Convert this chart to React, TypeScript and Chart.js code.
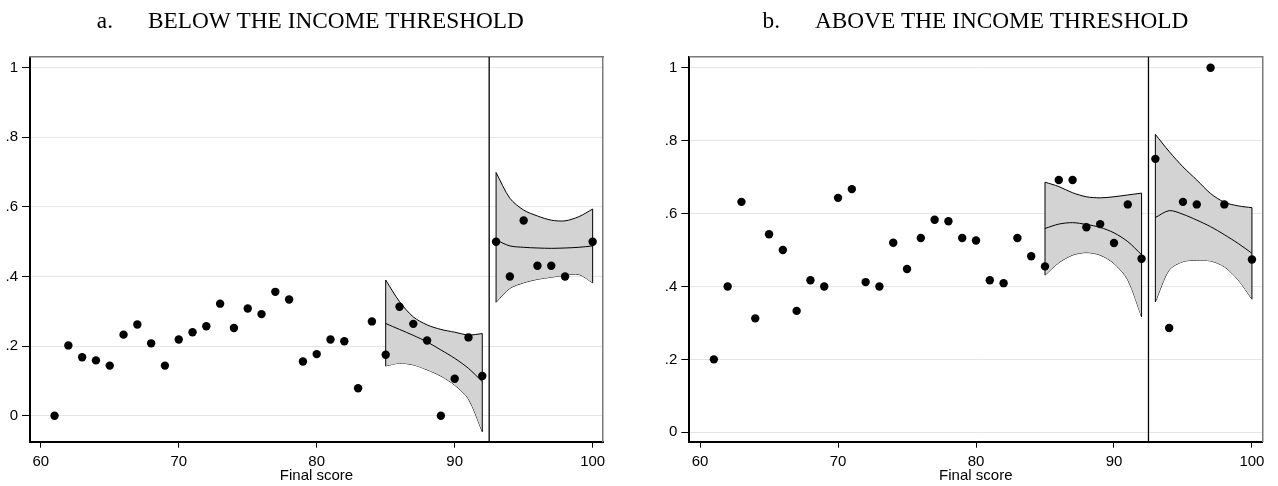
import React, { useEffect, useRef } from 'react';
import { Chart, registerables } from 'chart.js';

Chart.register(...registerables);

// ---------- data ----------
const scores = [61, 62, 63, 64, 65, 66, 67, 68, 69, 70, 71, 72, 73, 74, 75, 76, 77, 78, 79, 80,
  81, 82, 83, 84, 85, 86, 87, 88, 89, 90, 91, 92, 93, 94, 95, 96, 97, 98, 100];

const shareBelow = [0, 0.202, 0.168, 0.159, 0.144, 0.233, 0.262, 0.208, 0.144, 0.219, 0.24, 0.257, 0.322, 0.252,
  0.308, 0.292, 0.356, 0.334, 0.156, 0.177, 0.219, 0.214, 0.079, 0.271, 0.175, 0.313, 0.264, 0.216, 0, 0.106,
  0.225, 0.114, 0.5, 0.4, 0.561, 0.431, 0.431, 0.4, 0.5];

const shareAbove = [0.2, 0.4, 0.632, 0.3125, 0.543, 0.5, 0.333, 0.417, 0.4, 0.643, 0.667, 0.412, 0.4, 0.52,
  0.448, 0.533, 0.583, 0.579, 0.533, 0.526, 0.417, 0.409, 0.533, 0.483, 0.455, 0.692, 0.692, 0.5625, 0.571, 0.519,
  0.625, 0.476, 0.75, 0.286, 0.632, 0.625, 1.0, 0.625, 0.474];

const bandLeftX = [85, 86, 87, 88, 89, 90, 91, 92];
const bandRightX = [93, 94, 95, 96, 97, 98, 99, 100];

// panel a (below threshold)
const fitA1 = [0.265, 0.248, 0.231, 0.212, 0.189, 0.165, 0.136, 0.098];
const upA1 = [0.39, 0.328, 0.284, 0.261, 0.248, 0.24, 0.232, 0.236];
const loA1 = [0.143, 0.151, 0.146, 0.132, 0.114, 0.088, 0.048, -0.046];
const fitA2 = [0.505, 0.488, 0.484, 0.482, 0.481, 0.482, 0.484, 0.488];
const upA2 = [0.699, 0.625, 0.591, 0.574, 0.562, 0.56, 0.572, 0.594];
const loA2 = [0.326, 0.366, 0.382, 0.392, 0.398, 0.404, 0.406, 0.382];

// panel b (above threshold)
const fitB1 = [0.559, 0.571, 0.575, 0.57, 0.562, 0.547, 0.523, 0.487];
const upB1 = [0.686, 0.674, 0.657, 0.646, 0.643, 0.646, 0.651, 0.656];
const loB1 = [0.431, 0.465, 0.486, 0.493, 0.486, 0.463, 0.418, 0.317];
const fitB2 = [0.589, 0.608, 0.598, 0.582, 0.564, 0.542, 0.518, 0.491];
const upB2 = [0.817, 0.77, 0.728, 0.692, 0.655, 0.631, 0.621, 0.616];
const loB2 = [0.358, 0.445, 0.468, 0.472, 0.47, 0.454, 0.418, 0.365];

const cutoff = 92.5;
const xTicks = [60, 70, 80, 90, 100];
const xTickLabels = ['60', '70', '80', '90', '100'];
const yTicks = [0, 0.2, 0.4, 0.6, 0.8, 1];
const yTickLabels = ['0', '.2', '.4', '.6', '.8', '1'];
const panelTitles = [
  '\u00a0\u00a0a.\u00a0\u00a0\u00a0\u00a0\u00a0\u00a0BELOW THE INCOME THRESHOLD',
  '\u00a0\u00a0\u00a0\u00a0b.\u00a0\u00a0\u00a0\u00a0\u00a0\u00a0ABOVE THE INCOME THRESHOLD',
];
const xAxisTitle = 'Final score';

// ---------- styling ----------
const SANS = '"Liberation Sans", Arial, Helvetica, sans-serif';
const SERIF = '"Liberation Serif", "Times New Roman", serif';
const BAND_FILL = '#d3d3d3';

const pts = (xs: number[], ys: number[]) => xs.map((x, i) => ({ x, y: ys[i] }));

interface PanelSpec {
  title: string;
  share: number[];
  fit1: number[]; up1: number[]; lo1: number[];
  fit2: number[]; up2: number[]; lo2: number[];
  yMin: number; yMax: number;
  padLeft: number; padRight: number;
}

function buildConfig(p: PanelSpec): any {
  const lineDs = (data: any[], extra: any = {}) => ({
    type: 'line',
    data,
    borderColor: '#000',
    borderWidth: 1,
    pointRadius: 0,
    tension: 0.3,
    fill: false,
    ...extra,
  });
  const edge = (x: number, a: number, b: number) => lineDs([{ x, y: a }, { x, y: b }], { tension: 0 });
  const n1 = bandLeftX.length - 1;
  const n2 = bandRightX.length - 1;
  const datasets: any[] = [
    {
      type: 'line',
      data: pts(scores, p.share),
      showLine: false,
      pointRadius: 4.2,
      pointBackgroundColor: '#000',
      pointBorderWidth: 0,
      borderColor: '#000',
    },
    lineDs([{ x: cutoff, y: p.yMin }, { x: cutoff, y: p.yMax }], { tension: 0, borderWidth: 1.3 }),
    lineDs(pts(bandLeftX, p.fit1)),
    lineDs(pts(bandRightX, p.fit2)),
    edge(bandLeftX[0], p.lo1[0], p.up1[0]),
    edge(bandLeftX[n1], p.lo1[n1], p.up1[n1]),
    edge(bandRightX[0], p.lo2[0], p.up2[0]),
    edge(bandRightX[n2], p.lo2[n2], p.up2[n2]),
    lineDs(pts(bandLeftX, p.up1), { fill: '+1', backgroundColor: BAND_FILL }),
    lineDs(pts(bandLeftX, p.lo1)),
    lineDs(pts(bandRightX, p.up2), { fill: '+1', backgroundColor: BAND_FILL }),
    lineDs(pts(bandRightX, p.lo2)),
  ];
  const tickFont = { family: SANS, size: 15 };
  return {
    type: 'line',
    data: { datasets },
    options: {
      animation: false,
      responsive: false,
      events: [],
      layout: { padding: { left: p.padLeft, right: p.padRight, top: 0, bottom: 1 } },
      plugins: {
        legend: { display: false },
        tooltip: { enabled: false },
        title: {
          display: true,
          text: p.title,
          color: '#000',
          font: { family: SERIF, size: 23.3, weight: 'normal' },
          padding: { top: 7.8, bottom: 21 },
        },
      },
      scales: {
        x: {
          type: 'linear',
          position: 'bottom',
          min: 59.22,
          max: 100.75,
          afterBuildTicks: (ax: any) => { ax.ticks = xTicks.map((v) => ({ value: v })); },
          afterFit: (ax: any) => { ax.height = 43.3; },
          ticks: {
            callback: (_v: any, i: number) => xTickLabels[i],
            color: '#000', font: tickFont, padding: 5, maxRotation: 0, autoSkip: false,
          },
          grid: { drawOnChartArea: false, tickLength: 6, tickColor: '#000', tickWidth: 1 },
          border: { color: '#000', width: 2 },
          title: { display: true, text: xAxisTitle, color: '#000', font: tickFont, padding: 0 },
        },
        y: {
          type: 'linear',
          position: 'left',
          min: p.yMin,
          max: p.yMax,
          afterBuildTicks: (ax: any) => { ax.ticks = yTicks.map((v) => ({ value: v })); },
          afterFit: (ax: any) => { ax.width = 24; },
          ticks: {
            callback: (_v: any, i: number) => yTickLabels[i],
            color: '#000', font: tickFont, padding: 4, autoSkip: false,
          },
          grid: { color: '#e6e6e6', lineWidth: 1, tickLength: 8, tickColor: '#000', tickWidth: 1 },
          border: { color: '#000', width: 2 },
        },
        x2: {
          type: 'linear', position: 'top', min: 0, max: 1, display: true,
          ticks: { display: false }, grid: { display: false, drawTicks: false },
          border: { color: '#7a7a7a', width: 1.5 },
          afterFit: (ax: any) => { ax.height = 0; },
        },
        y2: {
          type: 'linear', position: 'right', min: 0, max: 1, display: true,
          ticks: { display: false }, grid: { display: false, drawTicks: false },
          border: { color: '#7a7a7a', width: 1.5 },
          afterFit: (ax: any) => { ax.width = 0; },
        },
      },
    },
  };
}

const panels: PanelSpec[] = [
  {
    title: panelTitles[0], share: shareBelow,
    fit1: fitA1, up1: upA1, lo1: loA1, fit2: fitA2, up2: upA2, lo2: loA2,
    yMin: -0.0747, yMax: 1.0316, padLeft: 6, padRight: 37,
  },
  {
    title: panelTitles[1], share: shareAbove,
    fit1: fitB1, up1: upB1, lo1: loB1, fit2: fitB2, up2: upB2, lo2: loB2,
    yMin: -0.0258, yMax: 1.030, padLeft: 25.3, padRight: 15.7,
  },
];

function Panel({ spec, width }: { spec: PanelSpec; width: number }) {
  const ref = useRef<HTMLCanvasElement | null>(null);
  useEffect(() => {
    if (!ref.current) return;
    const chart = new Chart(ref.current, buildConfig(spec));
    return () => chart.destroy();
  }, [spec]);
  return <canvas ref={ref} width={width} height={486} style={{ display: 'block', width, height: 486 }} />;
}

export default function App() {
  Chart.defaults.font.family = SANS;
  return (
    <div style={{ position: 'absolute', left: 0, top: 0, width: 1278, height: 486, background: '#fff', display: 'flex' }}>
      <Panel spec={panels[0]} width={640} />
      <Panel spec={panels[1]} width={638} />
    </div>
  );
}
